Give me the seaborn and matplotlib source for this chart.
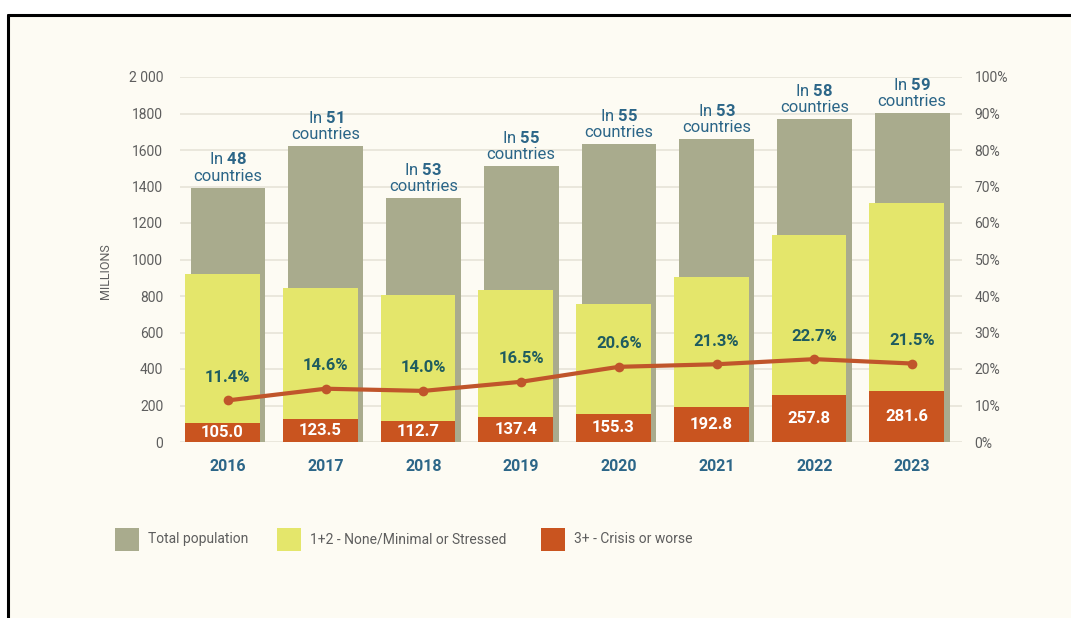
import numpy as np
import pandas as pd
import matplotlib
matplotlib.use("Agg")
import matplotlib.pyplot as plt
import seaborn as sns
from matplotlib.patches import Rectangle
from matplotlib.lines import Line2D
from matplotlib.ticker import FixedLocator

# ---------------- data ----------------
years = ["2016", "2017", "2018", "2019", "2020", "2021", "2022", "2023"]
countries = [48, 51, 53, 55, 55, 53, 58, 59]
total_pop = [1393, 1622, 1337, 1512, 1631, 1659, 1770, 1801]
stressed_pop = [818, 722.5, 692, 696, 599, 712, 878, 1028]
crisis_pop = [105.0, 123.5, 112.7, 137.4, 155.3, 192.8, 257.8, 281.6]
crisis_pct = [11.4, 14.6, 14.0, 16.5, 20.6, 21.3, 22.7, 21.5]
left_ticks = [0, 200, 400, 600, 800, 1000, 1200, 1400, 1600, 1800, 2000]
left_tick_labels = ["0", "200", "400", "600", "800", "1000", "1200", "1400", "1600", "1800", "2 000"]
right_ticks = [0, 10, 20, 30, 40, 50, 60, 70, 80, 90, 100]
right_tick_labels = [f"{v}%" for v in right_ticks]
legend_labels = ["Total population", "1+2 - None/Minimal or Stressed", "3+ - Crisis or worse"]

# ---------------- style ----------------
C_TOTAL = "#a9ab8d"
C_STRESS = "#e4e66b"
C_CRISIS = "#c9541f"
C_LINE = "#c0552b"
C_BG = "#fdfbf3"
C_TICK = "#5e5e5e"
C_BLUE = "#2c6688"
C_TEAL = "#1f5c5f"

sns.set_theme(style="white")
FONT = ["Roboto", "DejaVu Sans"]
plt.rcParams["font.family"] = FONT
plt.rcParams["mathtext.fontset"] = "custom"
plt.rcParams["mathtext.rm"] = "Roboto"
plt.rcParams["mathtext.it"] = "Roboto:italic"
plt.rcParams["mathtext.bf"] = "Roboto:bold"

W, H = 1071, 618
fig = plt.figure(figsize=(W / 100, H / 100), dpi=100)
fig.patch.set_facecolor("white")
fig.patches.append(Rectangle((8 / W, 0), 1, (H - 15) / H, transform=fig.transFigure,
                             facecolor=C_BG, edgecolor="none", zorder=-10))
fig.lines.append(Line2D([8 / W, 1], [(H - 15) / H] * 2, transform=fig.transFigure, color="black", lw=2.2))
fig.lines.append(Line2D([8 / W, 8 / W], [0, (H - 15) / H], transform=fig.transFigure, color="black", lw=2.2))

ax = fig.add_axes([180 / W, (H - 442) / H, (962 - 180) / W, (442 - 77) / H])
ax.set_facecolor("none")

idx = np.arange(len(years))
shift = -0.055
df = pd.DataFrame({
    "pos": idx.astype(float),
    "pos_front": idx + shift,
    "total": total_pop,
    "analysed": np.array(stressed_pop) + np.array(crisis_pop),
    "crisis": crisis_pop,
    "pct": np.array(crisis_pct) / 100.0,
})

bw = 0.765
sns.barplot(data=df, x="pos", y="total", native_scale=True, width=bw, color=C_TOTAL,
            saturation=1, errorbar=None, ax=ax, zorder=2, linewidth=0)
sns.barplot(data=df, x="pos_front", y="analysed", native_scale=True, width=bw, color=C_STRESS,
            saturation=1, errorbar=None, ax=ax, zorder=3, linewidth=0)
sns.barplot(data=df, x="pos_front", y="crisis", native_scale=True, width=bw, color=C_CRISIS,
            saturation=1, errorbar=None, ax=ax, zorder=4, linewidth=0)

ax.set_xlim(-0.49, 7.51)
ax.set_ylim(0, 2000)
ax.yaxis.set_major_locator(FixedLocator(left_ticks))
ax.set_yticklabels(left_tick_labels)
ax.set_xticks(idx)
ax.set_xticklabels(years)
ax.grid(axis="y", color="#e5e2d6", lw=1.1, zorder=0)
ax.grid(axis="x", visible=False)
ax.set_axisbelow(True)
ax.set_xlabel("")
ax.set_ylabel("")
for s in ax.spines.values():
    s.set_visible(False)
ax.tick_params(axis="y", length=0, pad=12, labelsize=10, labelcolor=C_TICK)
ax.tick_params(axis="x", length=0, pad=12, labelsize=11.5, labelcolor=C_BLUE)
for t in ax.get_xticklabels():
    t.set_fontweight("bold")

# country labels above total bars
for i, (v, n) in enumerate(zip(total_pop, countries)):
    ax.annotate(f"In $\\mathbf{{{n}}}$\ncountries", xy=(i, v), xytext=(0, 3),
                textcoords="offset points", ha="center", va="bottom", fontsize=12,
                color=C_BLUE, linespacing=1.1, zorder=6)

# crisis values inside red bars
for i, v in enumerate(crisis_pop):
    ax.text(i + shift, v / 2, f"{v:.1f}", ha="center", va="center", fontsize=12,
            fontweight="bold", color="white", zorder=6)

# secondary axis: percentage line
ax2 = ax.twinx()
ax2.set_facecolor("none")
sns.lineplot(data=df, x="pos", y="pct", ax=ax2, color=C_LINE, lw=3, marker="o",
             markersize=7, markeredgewidth=0, legend=False, zorder=5)
ax2.set_ylim(0, 1)
ax2.set_xlim(-0.49, 7.51)
ax2.yaxis.set_major_locator(FixedLocator([v / 100 for v in right_ticks]))
ax2.set_yticklabels(right_tick_labels)
ax2.set_ylabel("")
ax2.set_xlabel("")
ax2.grid(False)
for s in ax2.spines.values():
    s.set_visible(False)
ax2.tick_params(axis="y", length=0, pad=9, labelsize=10, labelcolor=C_TICK)

for i, p in enumerate(crisis_pct):
    ax2.annotate(f"{p:.1f}%", xy=(i, p / 100), xytext=(0, 16.5), textcoords="offset points",
                 ha="center", va="center", fontsize=12, fontweight="bold", color=C_TEAL, zorder=6)

fig.text(105 / W, (H - 271) / H, "MILLIONS", rotation=90, ha="center", va="center",
         fontsize=9, color=C_TICK)

# legend
sq_x = [115, 277, 541]
colors = [C_TOTAL, C_STRESS, C_CRISIS]
for x0, c, lab in zip(sq_x, colors, legend_labels):
    fig.patches.append(Rectangle((x0 / W, (H - 551) / H), 24 / W, 23 / H, transform=fig.transFigure,
                                 facecolor=c, edgecolor="none"))
    fig.text((x0 + 33) / W, (H - 539) / H, lab, ha="left", va="center", fontsize=10, color=C_TICK)

fig.savefig("out.png", dpi=100, facecolor=fig.get_facecolor())
